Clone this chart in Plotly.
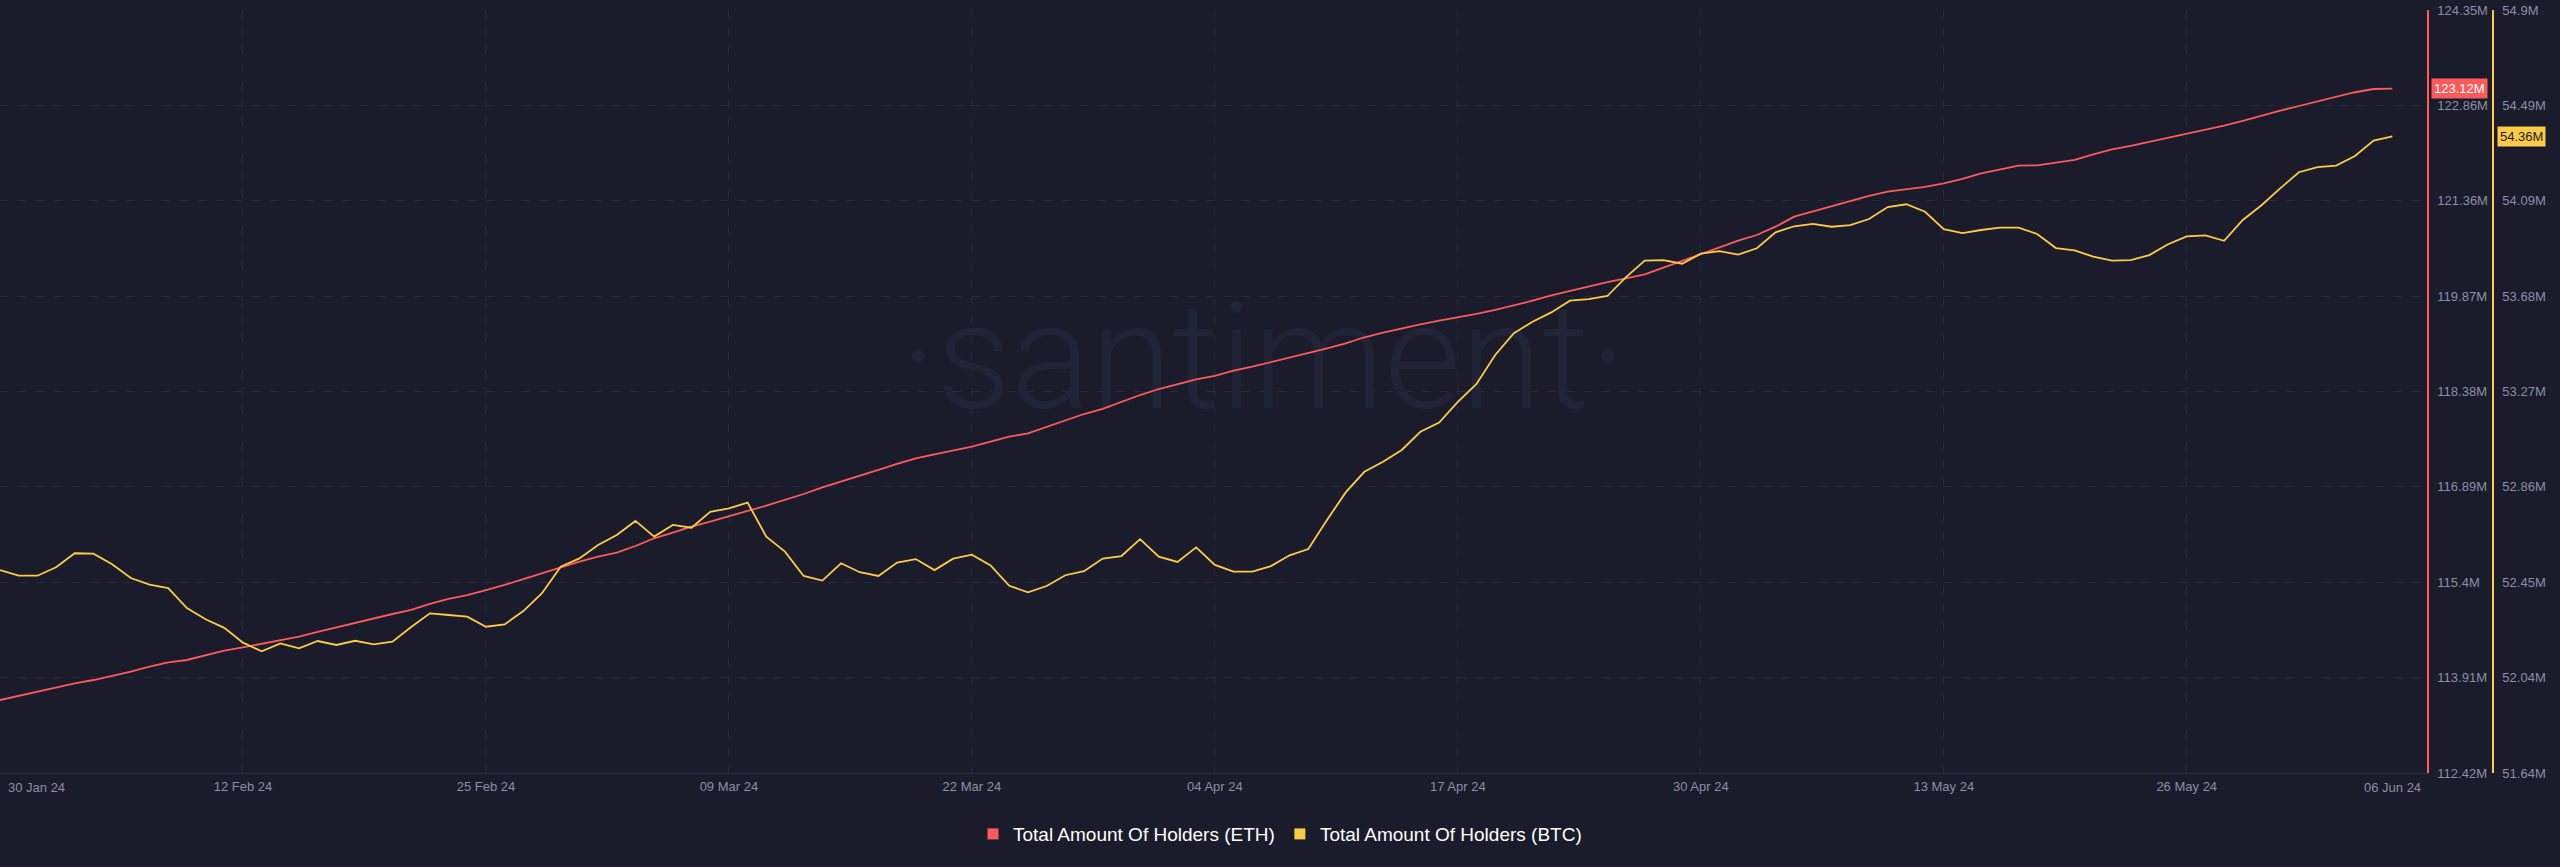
import pandas as pd
import plotly.graph_objects as go

# daily values, 30 Jan 24 .. 06 Jun 24 (millions)
eth_holders = [
    113.561, 113.624, 113.691, 113.757, 113.823, 113.874, 113.937, 114.004, 114.082, 114.151,
    114.187, 114.265, 114.332, 114.385, 114.437, 114.489, 114.551, 114.625, 114.698, 114.761,
    114.833, 114.906, 114.969, 115.063, 115.141, 115.203, 115.281, 115.360, 115.453, 115.543,
    115.641, 115.724, 115.802, 115.865, 115.969, 116.090, 116.177, 116.271, 116.349, 116.428,
    116.517, 116.600, 116.689, 116.782, 116.887, 116.975, 117.064, 117.158, 117.252, 117.341,
    117.403, 117.460, 117.522, 117.600, 117.678, 117.732, 117.835, 117.940, 118.033, 118.112,
    118.226, 118.330, 118.424, 118.502, 118.576, 118.628, 118.710, 118.773, 118.842, 118.920,
    118.992, 119.061, 119.139, 119.233, 119.305, 119.373, 119.436, 119.492, 119.539, 119.597,
    119.660, 119.727, 119.805, 119.889, 119.961, 120.035, 120.097, 120.155, 120.218, 120.321,
    120.426, 120.530, 120.634, 120.743, 120.832, 120.962, 121.118, 121.197, 121.286, 121.364,
    121.442, 121.509, 121.547, 121.583, 121.641, 121.708, 121.797, 121.853, 121.916, 121.922,
    121.958, 122.005, 122.094, 122.172, 122.224, 122.286, 122.349, 122.412, 122.474, 122.541,
    122.615, 122.698, 122.776, 122.849, 122.917, 122.995, 123.064, 123.115, 123.12,
]

btc_holders = [
    52.507, 52.483, 52.483, 52.519, 52.579, 52.577, 52.532, 52.473, 52.445, 52.430,
    52.345, 52.297, 52.260, 52.197, 52.160, 52.194, 52.173, 52.204, 52.187, 52.205,
    52.190, 52.201, 52.264, 52.322, 52.315, 52.308, 52.265, 52.275, 52.332, 52.408,
    52.521, 52.557, 52.614, 52.657, 52.717, 52.650, 52.700, 52.688, 52.756, 52.771,
    52.795, 52.650, 52.586, 52.482, 52.462, 52.536, 52.498, 52.482, 52.539, 52.554,
    52.507, 52.556, 52.573, 52.527, 52.440, 52.412, 52.439, 52.485, 52.502, 52.556,
    52.567, 52.639, 52.564, 52.542, 52.604, 52.529, 52.500, 52.500, 52.524, 52.570,
    52.597, 52.721, 52.839, 52.927, 52.970, 53.020, 53.098, 53.137, 53.226, 53.302,
    53.426, 53.519, 53.568, 53.608, 53.658, 53.665, 53.678, 53.759, 53.829, 53.831,
    53.816, 53.859, 53.870, 53.855, 53.882, 53.950, 53.976, 53.986, 53.974, 53.981,
    54.007, 54.058, 54.070, 54.038, 53.964, 53.947, 53.960, 53.970, 53.970, 53.943,
    53.883, 53.873, 53.846, 53.829, 53.831, 53.853, 53.899, 53.933, 53.937, 53.914,
    54.003, 54.066, 54.138, 54.207, 54.229, 54.235, 54.276, 54.342, 54.36,
]

dates = pd.date_range("2024-01-30", periods=len(eth_holders), freq="D")

x_tick_dates = ["2024-02-12", "2024-02-25", "2024-03-09", "2024-03-22", "2024-04-04",
                "2024-04-17", "2024-04-30", "2024-05-13", "2024-05-26"]
x_tick_labels = ["12 Feb 24", "25 Feb 24", "09 Mar 24", "22 Mar 24", "04 Apr 24",
                 "17 Apr 24", "30 Apr 24", "13 May 24", "26 May 24"]
first_label = "30 Jan 24"
last_label = "06 Jun 24"

eth_ticks = [112.42, 113.91125, 115.4025, 116.89375, 118.385, 119.87625, 121.3675, 122.85875, 124.35]
eth_tick_labels = ["112.42M", "113.91M", "115.4M", "116.89M", "118.38M", "119.87M", "121.36M", "122.86M", "124.35M"]
btc_ticks = [51.64, 52.0475, 52.455, 52.8625, 53.27, 53.6775, 54.085, 54.4925, 54.9]
btc_tick_labels = ["51.64M", "52.04M", "52.45M", "52.86M", "53.27M", "53.68M", "54.09M", "54.49M", "54.9M"]

BG = "#1a1b2b"
GRID = "#262a3c"
TICK = "#8c8fa5"
RED = "#ff5b5b"
YELLOW = "#ffcb47"
W, H = 2560, 867
PX_PER_DAY = 18.69

x_start = pd.Timestamp("2024-01-30")
x_end = 2427
x_stop = x_start + pd.Timedelta(days=x_end / PX_PER_DAY)

fig = go.Figure()
# watermark drawn first so the lines sit on top of it
fig.add_trace(go.Scatter(
    x=[x_start + pd.Timedelta(days=1263 / PX_PER_DAY)], y=[118.70],
    mode="text", text=["·santiment·"], textposition="middle center",
    textfont=dict(family="Roboto, sans-serif", size=148, color="#212437", weight=300),
    showlegend=False, hoverinfo="skip",
))
fig.add_trace(go.Scatter(x=dates, y=eth_holders, mode="lines", line=dict(color=RED, width=1.8),
                         yaxis="y", showlegend=False))
fig.add_trace(go.Scatter(x=dates, y=btc_holders, mode="lines", line=dict(color=YELLOW, width=1.8),
                         yaxis="y2", showlegend=False))
# legend entries with square swatches
fig.add_trace(go.Scatter(x=[None], y=[None], mode="markers", name="Total Amount Of Holders (ETH)",
                         marker=dict(symbol="square", size=11, color=RED)))
fig.add_trace(go.Scatter(x=[None], y=[None], mode="markers", name="Total Amount Of Holders (BTC)",
                         marker=dict(symbol="square", size=11, color=YELLOW), yaxis="y2"))

fig.update_layout(
    width=W, height=H,
    paper_bgcolor=BG, plot_bgcolor=BG,
    margin=dict(l=0, r=0, t=10, b=94, autoexpand=False),
    font=dict(family="Liberation Sans, Arial, sans-serif", size=13, color=TICK),
    xaxis=dict(
        domain=[0, x_end / W], type="date", range=[x_start, x_stop],
        tickvals=x_tick_dates, ticktext=x_tick_labels, ticks="",
        showgrid=True, gridcolor=GRID, griddash="8px,10px", gridwidth=1,
        showline=True, linecolor="#2a2d40", linewidth=1,
        zeroline=False, tickfont=dict(size=13, color=TICK), ticklabelstandoff=1,
    ),
    yaxis=dict(
        range=[112.42, 124.35], side="right", anchor="x",
        tickvals=eth_ticks, ticktext=eth_tick_labels, ticks="",
        showgrid=True, gridcolor=GRID, griddash="8px,10px", gridwidth=1,
        showline=True, linecolor=RED, linewidth=1.5, zeroline=False,
        tickfont=dict(size=13, color=TICK), ticklabelstandoff=6,
    ),
    yaxis2=dict(
        range=[51.64, 54.9], side="right", overlaying="y", anchor="free", position=2493 / W,
        tickvals=btc_ticks, ticktext=btc_tick_labels, ticks="",
        showgrid=False, showline=True, linecolor=YELLOW, linewidth=1.5, zeroline=False,
        tickfont=dict(size=13, color=TICK), ticklabelstandoff=6,
    ),
    legend=dict(orientation="h", x=0.5, xanchor="center", y=-0.080, yanchor="middle",
                font=dict(size=19, color="#ffffff"), bgcolor="rgba(0,0,0,0)"),
    showlegend=True,
)

annotations = [
    dict(text=first_label, xref="paper", yref="paper", x=6 / W, y=-0.0184,
         xanchor="left", yanchor="middle", showarrow=False, font=dict(size=13, color=TICK)),
    dict(text=last_label, xref="x", yref="paper", x=dates[-1], y=-0.0184,
         xanchor="center", yanchor="middle", showarrow=False, font=dict(size=13, color=TICK)),
    dict(text=f"{eth_holders[-1]:.2f}M", xref="paper", yref="y", x=2431 / W, y=eth_holders[-1],
         xanchor="left", yanchor="middle", showarrow=False, bgcolor=RED, borderpad=2,
         font=dict(size=13, color="#ffffff")),
    dict(text=f"{btc_holders[-1]:.2f}M", xref="paper", yref="y2", x=2497 / W, y=btc_holders[-1],
         xanchor="left", yanchor="middle", showarrow=False, bgcolor=YELLOW, borderpad=2,
         font=dict(size=13, color="#1a1b2b")),
]
fig.update_layout(annotations=annotations)

fig.write_html(
    "out.html",
    config={"displayModeBar": False},
    post_script="document.body.style.margin='0';document.body.style.background='" + BG + "';",
)
